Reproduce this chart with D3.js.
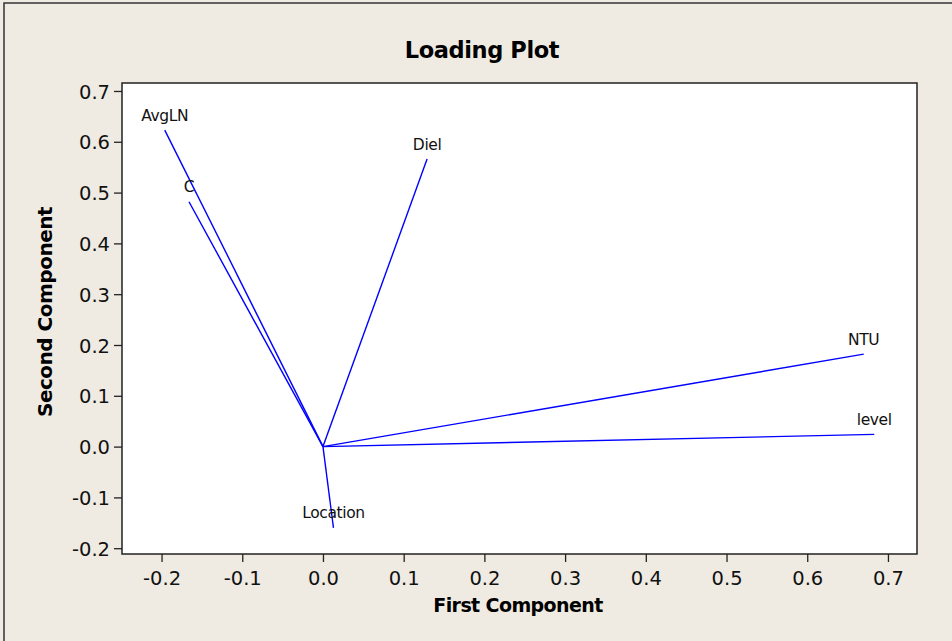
<!DOCTYPE html>
<html>
<head>
<meta charset="utf-8">
<script src="https://cdn.jsdelivr.net/npm/d3@7"></script>
<style>
  body { margin: 0; background: #efebe2; }
  svg { display: block; }
</style>
</head>
<body>
<div id="chart"></div>
<script>
// variable loadings
const variables = ['AvgLN', 'C', 'Diel', 'NTU', 'level', 'Location'];
const firstComp = [-0.196, -0.166, 0.129, 0.670, 0.683, 0.013];
const secondComp = [0.623, 0.482, 0.566, 0.182, 0.024, -0.160];

const xTicks = [-0.2, -0.1, 0.0, 0.1, 0.2, 0.3, 0.4, 0.5, 0.6, 0.7];
const yTicks = [-0.2, -0.1, 0.0, 0.1, 0.2, 0.3, 0.4, 0.5, 0.6, 0.7];

const width = 952;
const height = 641;
const margin = {top: 83, right: 35, bottom: 87, left: 122};

const svg = d3.select('#chart')
  .append('svg')
  .attr('width', width)
  .attr('height', height);

svg.append('rect')
  .attr('width', width)
  .attr('height', height)
  .attr('fill', '#efebe2');

// outer frame (only top and left edges show in the picture)
svg.append('path')
  .attr('d', 'M4,' + height + 'V3H' + width)
  .attr('fill', 'none')
  .attr('stroke', '#333')
  .attr('stroke-width', 1.5);

const x = d3.scaleLinear()
  .domain([-0.249, 0.736])
  .range([margin.left, width - margin.right]);

const y = d3.scaleLinear()
  .domain([-0.2114, 0.7157])
  .range([height - margin.bottom, margin.top]);

svg.append('rect')
  .attr('x', margin.left)
  .attr('y', margin.top)
  .attr('width', width - margin.left - margin.right)
  .attr('height', height - margin.top - margin.bottom)
  .attr('fill', '#fff')
  .attr('stroke', '#222')
  .attr('stroke-width', 1.5);

const fmt = function(d) { return d3.format('.1f')(d).replace('\u2212', '-'); };

const xAxis = svg.append('g')
  .attr('transform', 'translate(0,' + (height - margin.bottom) + ')')
  .call(d3.axisBottom(x).tickValues(xTicks).tickFormat(fmt).tickSize(8).tickSizeOuter(0));

const yAxis = svg.append('g')
  .attr('transform', 'translate(' + margin.left + ',0)')
  .call(d3.axisLeft(y).tickValues(yTicks).tickFormat(fmt).tickSize(8).tickSizeOuter(0));

[xAxis, yAxis].forEach(function(a) {
  a.select('.domain').remove();
  a.selectAll('line').attr('stroke', '#222').attr('stroke-width', 1.3);
  a.selectAll('text')
    .attr('fill', '#111')
    .style('font-family', 'DejaVu Sans')
    .style('font-size', '19.5px');
});
xAxis.selectAll('text').attr('dy', '1.05em');
yAxis.selectAll('text').attr('x', -12).attr('dy', '0.36em');

const loadings = variables.map(function(name, i) {
  return {name: name, pc1: firstComp[i], pc2: secondComp[i]};
});

svg.selectAll('line.vector')
  .data(loadings)
  .enter().append('line')
  .attr('class', 'vector')
  .attr('x1', x(0))
  .attr('y1', y(0))
  .attr('x2', function(d) { return x(d.pc1); })
  .attr('y2', function(d) { return y(d.pc2); })
  .attr('stroke', '#0000ff')
  .attr('stroke-width', 1.4);

svg.selectAll('text.label')
  .data(loadings)
  .enter().append('text')
  .attr('class', 'label')
  .attr('x', function(d) { return x(d.pc1); })
  .attr('y', function(d) { return y(d.pc2) - 9.5; })
  .attr('text-anchor', 'middle')
  .style('font-family', 'DejaVu Sans')
  .style('font-size', '15.5px')
  .style('letter-spacing', '-0.4px')
  .attr('fill', '#111')
  .text(function(d) { return d.name; });

svg.append('text')
  .attr('x', 482)
  .attr('y', 58)
  .attr('text-anchor', 'middle')
  .style('font-family', 'DejaVu Sans')
  .style('font-weight', 'bold')
  .style('font-size', '22.5px')
  .style('letter-spacing', '-0.4px')
  .text('Loading Plot');

svg.append('text')
  .attr('x', 518)
  .attr('y', 612)
  .attr('text-anchor', 'middle')
  .style('font-family', 'DejaVu Sans')
  .style('font-weight', 'bold')
  .style('font-size', '19px')
  .style('letter-spacing', '-0.6px')
  .text('First Component');

svg.append('text')
  .attr('transform', 'translate(52,312) rotate(-90)')
  .attr('text-anchor', 'middle')
  .style('font-family', 'DejaVu Sans')
  .style('font-weight', 'bold')
  .style('font-size', '20px')
  .style('letter-spacing', '-0.5px')
  .text('Second Component');
</script>
</body>
</html>
